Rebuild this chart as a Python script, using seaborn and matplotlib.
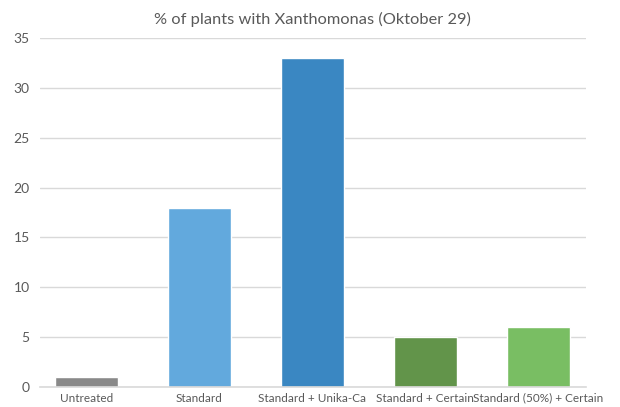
import matplotlib
matplotlib.use("Agg")
import matplotlib.pyplot as plt
import pandas as pd
import seaborn as sns

categories = ["Untreated", "Standard", "Standard + Unika-Ca",
              "Standard + Certain", "Standard (50%) + Certain"]
values = [1, 18, 33, 5, 6]
colors = ["#898989", "#62A9DD", "#3A87C2", "#62944A", "#79BE63"]

sns.set_style("white")
plt.rcParams['font.family'] = ['Lato', 'DejaVu Sans']

df = pd.DataFrame({'treatment': categories, 'pct': values})

fig = plt.figure(figsize=(6.2, 4.07), dpi=100)
ax = fig.add_axes([39.5 / 620, 20 / 407, 546.5 / 620, 349 / 407])

sns.barplot(data=df, x='treatment', y='pct', hue='treatment',
            palette=colors, width=0.557, saturation=1, legend=False, ax=ax)

ax.set_xlim(-0.414, 4.422)
ax.set_ylim(0, 35)
ax.set_yticks(range(0, 36, 5))
ax.yaxis.grid(True, color='#D9D9D9', linewidth=1)
ax.set_axisbelow(True)
for side in ['top', 'right', 'left']:
    ax.spines[side].set_visible(False)
ax.spines['bottom'].set_color('#D9D9D9')
ax.spines['bottom'].set_linewidth(1.2)
ax.set_xlabel('')
ax.set_ylabel('')
ax.tick_params(axis='both', length=0, colors='#595959')
ax.tick_params(axis='y', pad=7, labelsize=10)
ax.tick_params(axis='x', pad=4, labelsize=8.5)
ax.set_title('% of plants with Xanthomonas (Oktober 29)', fontsize=11.8,
             color='#595959', pad=10)

fig.savefig('out.png', dpi=100)
